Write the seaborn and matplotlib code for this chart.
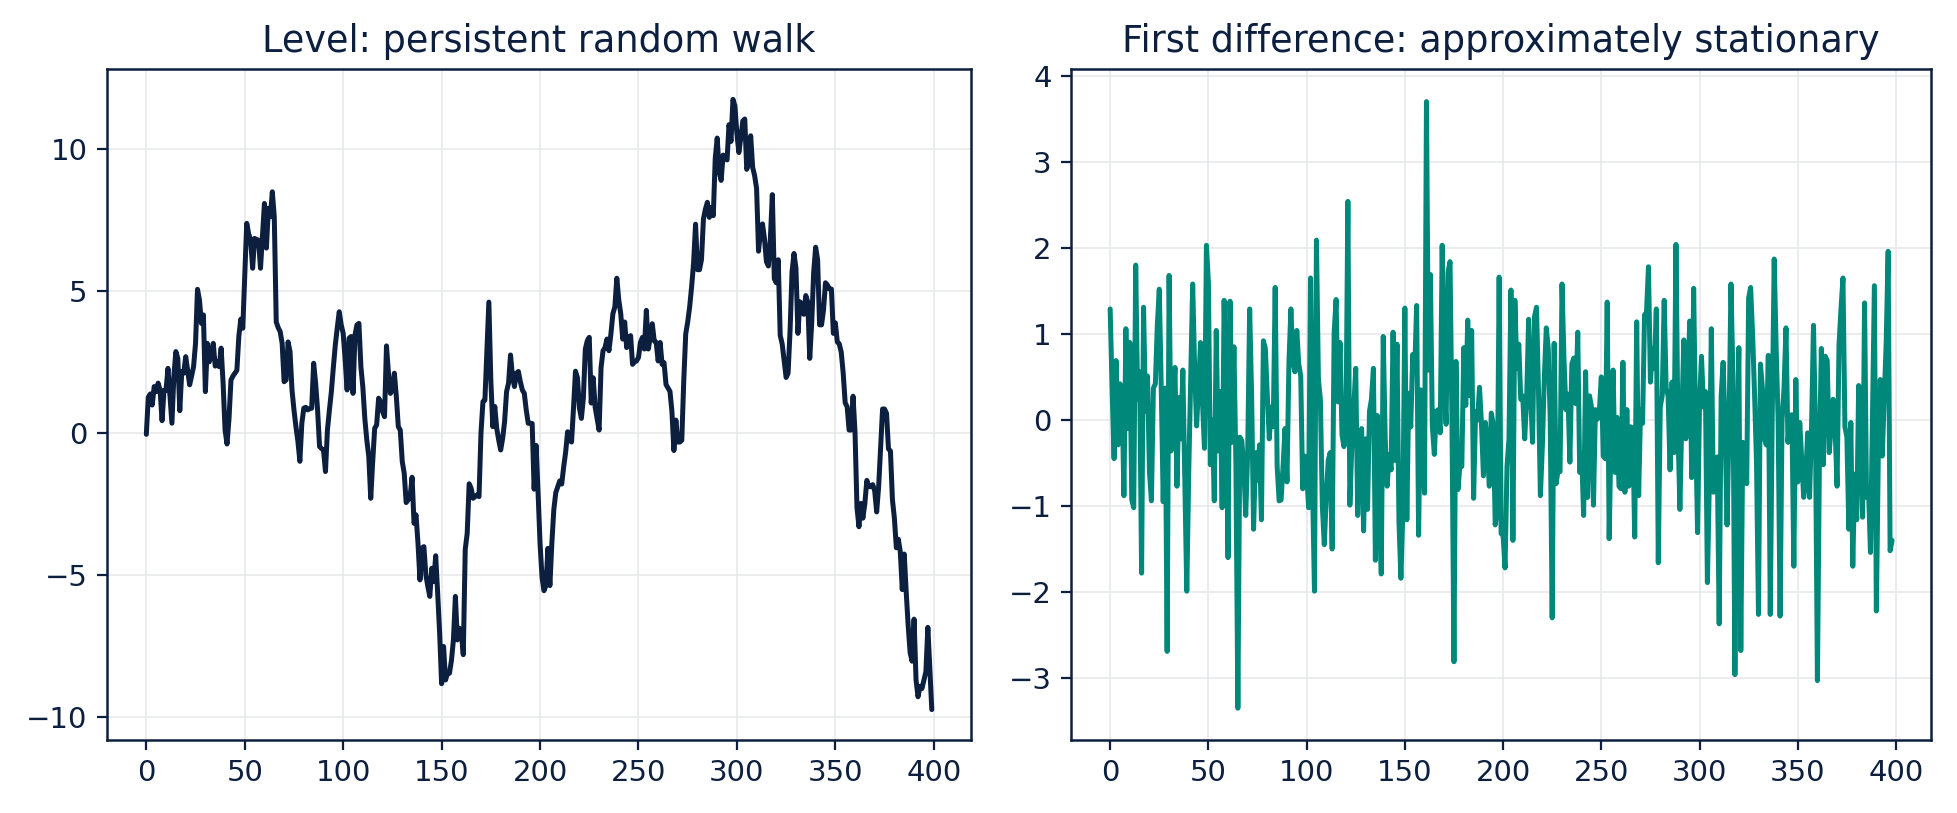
import numpy as np
import pandas as pd
import matplotlib
matplotlib.use("Agg")
import matplotlib.pyplot as plt
import seaborn as sns

# ---- data ----
level = [
    -0.05, 1.25, 1.37, 0.98, 1.63, 1.45, 1.75, 1.5, 0.43, 1.5,
    1.5, 2.27, 1.3, 0.34, 2.0, 2.86, 2.62, 0.78, 2.15, 2.1,
    2.68, 2.2, 1.69, 2.0, 2.33, 3.15, 5.05, 4.67, 3.85, 4.15,
    1.45, 3.15, 2.5, 2.8, 3.15, 2.35, 2.5, 2.33, 2.98, 1.75,
    0.1, -0.39, 0.5, 1.86, 2.0, 2.1, 2.2, 3.4, 4.0, 3.68,
    5.5, 7.37, 7.0, 6.78, 5.79, 6.84, 6.8, 6.78, 5.79, 6.9,
    8.07, 6.5, 7.9, 7.6, 8.48, 7.6, 3.9, 3.7, 3.56, 3.15,
    1.8, 1.86, 3.2, 2.86, 1.51, 0.81, 0.22, -0.3, -1.0, 0.34,
    0.87, 0.9, 0.81, 0.85, 0.87, 2.45, 1.75, 0.81, -0.48, -0.55,
    -0.6, -1.36, 0.1, 0.8, 1.45, 2.3, 3.09, 3.7, 4.26, 3.8,
    3.5, 2.57, 1.51, 3.33, 3.39, 1.39, 3.44, 3.8, 3.85, 2.33,
    1.6, 0.5, -0.25, -0.83, -2.3, -1.0, 0.16, 0.28, 1.22, 1.1,
    0.75, 0.57, 3.06, 2.1, 1.39, 1.51, 2.1, 1.28, 0.22, 0.1,
    -1.0, -1.42, -2.45, -2.35, -2.24, -1.56, -3.18, -2.88, -3.88, -5.17,
    -4.05, -4.0, -4.99, -5.4, -5.75, -4.76, -5.23, -4.32, -5.64, -7.04,
    -8.82, -7.51, -8.69, -8.45, -8.45, -8.0, -7.28, -5.75, -7.28, -6.87,
    -7.0, -7.8, -4.1, -3.53, -1.79, -1.95, -2.3, -2.24, -2.18, -2.24,
    0.0, 1.1, 1.16, 2.9, 4.6, 1.86, 0.22, 0.93, 0.16, -0.25,
    -0.6, -0.2, 0.4, 1.45, 1.75, 2.74, 1.98, 1.63, 2.1, 2.16,
    1.8, 1.51, 1.39, 0.8, 0.34, 0.34, 0.33, -1.98, -0.44, -2.1,
    -3.88, -5.07, -5.55, -5.37, -4.06, -5.37, -3.88, -2.7, -2.1, -1.9,
    -1.69, -1.8, -1.2, -0.68, 0.04, -0.26, -0.32, 0.87, 2.17, 1.94,
    0.87, 0.51, 1.22, 2.95, 3.24, 3.36, 1.05, 1.94, 0.9, 0.51,
    0.1, 2.3, 2.89, 3.0, 3.3, 2.89, 3.48, 4.19, 4.43, 5.44,
    4.67, 4.19, 3.3, 3.9, 3.0, 3.36, 3.42, 2.41, 2.5, 2.53,
    2.65, 3.18, 3.36, 2.95, 4.31, 2.95, 3.36, 3.84, 3.24, 3.18,
    2.53, 3.18, 2.41, 2.47, 1.7, 1.58, 1.46, 0.75, -0.62, 0.45,
    -0.32, -0.32, -0.26, 1.82, 3.48, 3.9, 4.43, 5.14, 5.97, 7.34,
    5.74, 5.74, 6.09, 7.52, 7.87, 8.11, 7.58, 7.93, 7.64, 9.66,
    10.37, 9.18, 8.88, 9.77, 9.71, 9.6, 10.84, 10.25, 11.73, 11.5,
    10.52, 9.86, 10.38, 10.97, 11.04, 9.27, 9.49, 10.45, 9.34, 9.05,
    8.6, 6.39, 7.12, 7.35, 6.83, 6.02, 5.87, 6.83, 8.38, 5.42,
    5.28, 6.09, 3.43, 3.13, 2.54, 1.95, 2.1, 3.58, 5.65, 6.31,
    5.79, 3.5, 4.61, 4.54, 4.17, 4.83, 4.6, 2.62, 3.87, 5.65,
    6.53, 6.09, 3.8, 3.8, 4.32, 5.28, 5.2, 5.06, 5.06, 3.5,
    3.87, 3.2, 3.13, 2.84, 2.1, 1.06, 0.92, 0.1, 0.1, 1.29,
    0.03, -2.63, -3.3, -2.48, -3.0, -2.48, -1.67, -1.89, -1.89, -1.82,
    -2.04, -2.78, -1.89, -0.56, 0.84, 0.84, 0.69, -0.56, -0.64, -2.34,
    -3.0, -4.04, -3.74, -4.18, -5.51, -4.26, -5.59, -6.77, -7.73, -8.03,
    -6.55, -8.69, -9.28, -8.91, -8.99, -8.69, -8.4, -6.84, -8.25, -9.73,
]

first_diff = [
    1.29, 0.35, -0.45, 0.69, -0.29, 0.42, 0.37, -0.88, 1.06, -0.1,
    0.9, -0.93, -1.02, 1.8, 0.24, 0.56, -1.78, 1.31, 0.1, 0.51,
    -0.6, -0.94, 0.37, 0.42, 1.1, 1.52, 0.37, -0.95, 0.37, -2.69,
    1.68, -0.36, 0.2, 0.61, -0.77, 0.26, -0.22, 0.58, -0.7, -1.99,
    -0.6, 0.5, 1.58, 0.6, -0.07, 0.4, 0.9, 0.2, -0.33, 2.03,
    1.6, -0.52, 0.0, -0.94, 1.04, -0.36, 0.33, -1.02, 1.39, 0.37,
    -1.6, 1.38, -0.26, 0.85, -0.5, -3.35, -0.2, -0.24, -0.54, -1.11,
    -0.38, 1.29, 0.3, -1.27, -0.38, -0.7, -0.29, -1.16, 0.92, 0.83,
    0.28, -0.22, 0.15, -0.08, 1.54, -0.54, -0.94, -0.93, -0.54, -0.1,
    -0.72, 0.67, 1.29, 0.69, 0.56, 1.04, 0.65, 0.51, -0.8, -0.42,
    -0.6, -1.02, 1.65, -0.77, -1.99, 2.09, 0.47, 0.24, -1.0, -1.45,
    -0.9, -0.47, -0.38, -1.5, 1.01, 1.4, 0.21, 0.9, -0.17, -0.31,
    -0.13, 2.54, -0.99, -0.3, 0.15, 0.6, -1.11, -0.2, -0.1, -1.29,
    -0.22, -1.04, 0.1, 0.24, 0.6, -1.63, 0.05, -1.0, -1.79, 0.97,
    -0.22, -0.77, -0.4, -0.58, 1.02, -0.47, 0.88, -1.18, -1.84, -1.04,
    1.3, -1.16, 0.31, -0.08, 0.76, 0.56, 1.33, -1.34, 0.35, -0.22,
    -0.85, 3.7, 0.58, 1.69, -0.08, -0.4, 0.1, 0.12, -0.15, 2.03,
    0.47, -0.05, 1.72, 1.84, -0.08, -2.81, 0.68, -0.81, -0.54, -0.54,
    0.84, 0.17, 1.16, 0.28, 1.04, -0.91, 0.1, 0.0, 0.38, -0.05,
    -0.65, -0.03, -0.35, -0.77, 0.08, -0.05, -1.22, -1.05, 1.66, -1.32,
    -1.34, -1.72, -0.54, -0.22, 1.51, -1.4, 1.39, 0.6, 0.88, 0.24,
    0.28, -0.22, 0.25, 1.17, 0.3, -0.26, 1.2, 1.31, 0.37, -0.88,
    -0.3, 0.5, 1.07, 0.83, 0.0, -2.3, 0.89, -0.74, -0.58, -0.6,
    1.58, 0.7, 0.12, 0.3, -0.49, 0.65, 0.72, 0.19, 1.02, -0.61,
    -0.4, -1.11, 0.56, -0.9, 0.28, 0.15, -0.99, 0.12, 0.01, 0.1,
    0.5, -0.42, -0.45, 1.37, -1.38, -0.1, 0.58, -0.61, 0.03, -0.77,
    -0.8, 0.67, -0.84, 0.12, -0.77, -0.08, -0.1, -1.36, 1.14, -0.88,
    0.12, -0.04, 1.22, 1.25, 1.78, 0.44, 0.83, 0.6, 1.29, -1.66,
    0.15, 0.28, 1.39, 0.37, 0.28, -0.58, 0.44, -0.38, 2.04, -0.08,
    -1.04, 0.05, 0.93, -0.22, 0.37, 1.15, -0.67, 1.53, -0.08, -1.31,
    0.19, 0.74, 0.15, 0.33, -1.89, -0.72, 1.06, -0.84, -0.45, -0.43,
    -2.37, 0.28, 0.67, -0.08, -1.22, -0.08, 1.58, 0.5, -2.96, -0.5,
    0.84, -2.68, -0.26, -0.3, -0.74, 1.42, 1.54, 1.0, 0.3, -0.5,
    -2.26, 0.65, 0.37, -0.22, -0.29, 0.75, -2.26, 0.05, 1.87, 0.83,
    0.0, -2.28, 0.0, 0.37, 1.07, -0.26, 0.05, 0.06, -1.7, 0.47,
    -0.72, -0.03, -0.45, -0.9, -0.72, -0.15, -0.9, -0.08, 1.1, -0.08,
    -3.03, -0.49, 0.83, -0.52, 0.74, 0.69, -0.38, -0.08, 0.24, -0.1,
    -0.77, 0.88, 1.29, 1.65, -0.08, -0.2, -1.27, -0.03, -1.7, -0.63,
    -1.16, 0.4, -0.1, -1.13, 1.36, -0.9, -0.8, -1.54, 0.0, 1.56,
    -2.22, -0.4, 0.47, -0.42, 0.24, 0.9, 1.96, -1.52, -1.4,
]

titles = ["Level: persistent random walk", "First difference: approximately stationary"]
x_ticks = [0, 50, 100, 150, 200, 250, 300, 350, 400]
level_ticks = [-10, -5, 0, 5, 10]
diff_ticks = [-3, -2, -1, 0, 1, 2, 3, 4]

# ---- styling ----
NAVY = "#0c1f3f"
TEAL = "#00897b"
sns.set_theme(style="ticks")
plt.rcParams["font.family"] = ["DejaVu Sans"]
plt.rcParams.update({
    "axes.edgecolor": NAVY,
    "axes.labelcolor": NAVY,
    "xtick.color": NAVY,
    "ytick.color": NAVY,
    "text.color": NAVY,
    "axes.linewidth": 1.0,
})

df_level = pd.DataFrame({"t": np.arange(len(level)), "value": level})
df_diff = pd.DataFrame({"t": np.arange(len(first_diff)), "value": first_diff})

fig = plt.figure(figsize=(9.785, 4.065), dpi=200)
ax1 = fig.add_axes([0.0547, 0.0898, 0.4415, 0.8254])
ax2 = fig.add_axes([0.5473, 0.0898, 0.4395, 0.8254])

sns.lineplot(data=df_level, x="t", y="value", ax=ax1, color=NAVY, linewidth=1.8)
sns.lineplot(data=df_diff, x="t", y="value", ax=ax2, color=TEAL, linewidth=1.8)

for ax, title, yt, n in zip([ax1, ax2], titles, [level_ticks, diff_ticks],
                            [len(level), len(first_diff)]):
    ax.set_title(title, fontsize=13.2, color=NAVY, pad=6)
    ax.set_xlabel("")
    ax.set_ylabel("")
    ax.set_xticks(x_ticks)
    ax.set_yticks(yt)
    ax.grid(True, color="#e6e9ea", linewidth=0.6)
    ax.set_axisbelow(True)
    ax.tick_params(labelsize=10.5, length=3.5, width=0.8, colors=NAVY)
    for s in ax.spines.values():
        s.set_visible(True)
        s.set_color(NAVY)
        s.set_linewidth(0.9)
    span = n - 1
    ax.set_xlim(-0.05 * span, span * 1.05)

ax1.set_ylim(-10.8, 12.8)
ax2.set_ylim(-3.72, 4.08)

fig.savefig("out.png", dpi=200)
